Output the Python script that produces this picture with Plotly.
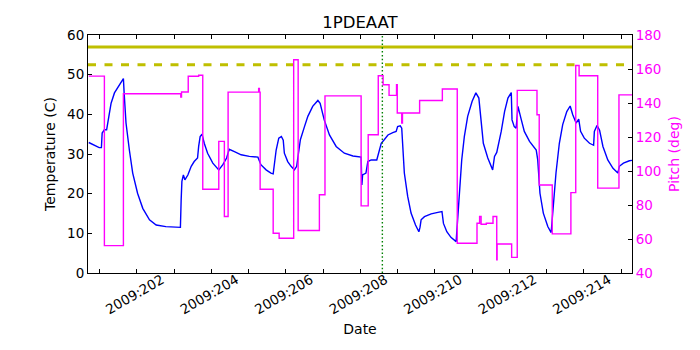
"""1PDEAAT temperature and pitch"""
import plotly.graph_objects as go

# temperature (C) vs day of year 2009
temp_day = [
    200.71, 200.99, 201.05, 201.07, 201.13, 201.19, 201.25, 201.31, 201.40, 201.53,
    201.64, 201.66, 201.71, 201.80, 201.89, 202.02, 202.16, 202.34, 202.52, 202.78,
    203.17, 203.19, 203.21, 203.25, 203.29, 203.37, 203.46, 203.54, 203.63, 203.66,
    203.70, 203.75, 203.81, 203.90, 204.04, 204.20, 204.31, 204.41, 204.48, 204.62,
    204.80, 205.02, 205.25, 205.33, 205.47, 205.60, 205.66, 205.74, 205.81, 205.88,
    205.93, 205.96, 206.05, 206.14, 206.23, 206.29, 206.33, 206.39, 206.50, 206.59,
    206.72, 206.86, 206.92, 207.03, 207.17, 207.35, 207.57, 207.80, 208.02, 208.04,
    208.06, 208.15, 208.20, 208.29, 208.44, 208.51, 208.56, 208.64, 208.74, 208.87,
    208.96, 209.00, 209.07, 209.11, 209.14, 209.18, 209.27, 209.36, 209.48, 209.57,
    209.60, 209.63, 209.72, 209.90, 210.08, 210.19, 210.23, 210.32, 210.43, 210.57,
    210.61, 210.66, 210.72, 210.79, 210.88, 211.00, 211.10, 211.18, 211.22, 211.24,
    211.30, 211.42, 211.55, 211.60, 211.66, 211.78, 211.87, 211.96, 212.05, 212.07,
    212.13, 212.18, 212.23, 212.31, 212.40, 212.54, 212.72, 212.76, 212.82, 212.91,
    213.03, 213.12, 213.18, 213.25, 213.34, 213.43, 213.54, 213.63, 213.70, 213.79,
    213.86, 213.91, 214.01, 214.15, 214.26, 214.28, 214.35, 214.42, 214.51, 214.64,
    214.78, 214.91, 214.95, 215.06, 215.22, 215.29,
]
temp_c = [
    32.9, 31.6, 31.6, 35.3, 36.1, 36.1, 39.5, 42.8, 45.4, 47.5,
    49.0, 45.4, 37.8, 31.0, 25.2, 20.1, 16.3, 13.4, 12.1, 11.7,
    11.5, 18.4, 23.1, 24.7, 23.5, 24.7, 26.9, 28.1, 29.0, 31.9,
    34.4, 35.0, 32.7, 30.2, 27.7, 26.0, 27.3, 29.0, 31.2, 30.6,
    29.8, 29.4, 29.2, 27.3, 26.0, 25.2, 25.0, 31.0, 34.0, 34.4,
    33.5, 30.2, 28.1, 26.9, 26.0, 26.9, 30.2, 33.6, 36.9, 39.5,
    42.0, 43.5, 42.8, 38.6, 34.8, 31.9, 30.2, 29.5, 29.2, 22.2,
    24.7, 25.2, 28.1, 28.5, 28.5, 30.6, 32.7, 33.6, 34.8, 35.4,
    35.7, 36.9, 37.1, 36.5, 31.9, 25.2, 19.3, 15.1, 12.1, 10.4,
    11.5, 13.4, 14.2, 14.9, 15.3, 15.5, 12.5, 10.4, 9.0, 7.9,
    13.4, 20.9, 28.5, 34.4, 39.5, 43.3, 45.4, 44.1, 40.3, 36.9,
    32.7, 29.0, 26.0, 29.4, 30.4, 35.7, 40.7, 44.1, 45.5, 38.6,
    36.9, 36.5, 42.0, 39.0, 35.7, 33.2, 31.0, 28.5, 20.1, 15.1,
    11.7, 10.2, 17.6, 25.2, 32.7, 37.4, 40.7, 42.1, 39.9, 37.8,
    38.8, 35.7, 34.0, 32.7, 32.2, 35.7, 37.2, 36.0, 31.9, 28.5,
    26.4, 25.2, 26.9, 27.7, 28.3, 28.4,
]

# pitch (deg): value holds from each day until the next one
pitch_day = [
    200.71, 201.13, 201.64, 203.18, 203.20, 203.38, 203.66, 203.77, 204.20, 204.35,
    204.45, 205.27, 205.29, 205.31, 205.66, 205.82, 206.21, 206.33, 206.90, 207.05,
    208.02, 208.21, 208.48, 208.61, 208.77, 208.97, 208.99, 209.11, 209.13, 209.59,
    210.20, 210.60, 211.13, 211.20, 211.24, 211.38, 211.56, 211.66, 211.67, 212.06,
    212.21, 212.74, 212.80, 213.15, 213.65, 213.78, 213.87, 214.37, 214.94, 215.29,
]
pitch_deg = [
    155.8, 56.1, 145.4, 143.5, 146.5, 155.7, 156.3, 89.3, 117.4, 73.2,
    146.4, 148.5, 146.4, 89.3, 63.4, 60.4, 165.4, 65.0, 86.0, 144.2,
    79.5, 121.3, 156.0, 150.7, 144.5, 150.7, 134.1, 128.2, 134.1, 141.5,
    148.2, 57.5, 69.3, 73.2, 68.7, 69.3, 73.2, 47.7, 57.1, 49.2,
    147.4, 133.1, 91.8, 63.0, 87.3, 162.1, 156.0, 89.9, 144.8, 144.8,
]

limit_planning = 57.0
limit_caution = 52.5
now_day = 208.59

x_range = [200.69, 215.29]
tick_days = list(range(201, 216))
tick_text = [f"2009:{d}" if d % 2 == 0 else "" for d in tick_days]

font = "DejaVu Sans, Liberation Sans, sans-serif"
olive = "#bfbf00"
magenta = "#ff00ff"

fig = go.Figure()
fig.add_trace(go.Scatter(
    x=x_range, y=[limit_planning] * 2, mode="lines",
    line=dict(color=olive, width=3), showlegend=False,
))
fig.add_trace(go.Scatter(
    x=x_range, y=[limit_caution] * 2, mode="lines",
    line=dict(color=olive, width=3, dash="8px,8.5px"), showlegend=False,
))
fig.add_trace(go.Scatter(
    x=temp_day, y=temp_c, mode="lines",
    line=dict(color="#0000ff", width=1.4), showlegend=False,
))
fig.add_trace(go.Scatter(
    x=[now_day, now_day], y=[0, 60], mode="lines",
    line=dict(color="#008000", width=1.4, dash="1.5px,2.3px"), showlegend=False,
))
fig.add_trace(go.Scatter(
    x=pitch_day, y=pitch_deg, mode="lines", line_shape="hv", yaxis="y2",
    line=dict(color=magenta, width=1.4), showlegend=False,
))

fig.update_layout(
    width=700, height=350,
    margin=dict(l=88, r=68, t=35, b=77),
    paper_bgcolor="white", plot_bgcolor="white",
    font=dict(family=font, size=14, color="black"),
    title=dict(text="1PDEAAT", x=0.5, xref="paper", y=1 - 22 / 350,
               yanchor="middle", font=dict(size=16.5)),
    xaxis=dict(
        range=x_range, tickvals=tick_days, ticktext=tick_text, tickangle=-30,
        ticklabelshift=25, ticklabelstandoff=-7, ticks="inside", ticklen=4,
        tickcolor="black", showgrid=False, zeroline=False, showline=True,
        linecolor="black", linewidth=1, mirror="ticks", automargin=False,
        tickfont=dict(size=13.5),
        title=dict(text="Date", standoff=7, font=dict(size=14)),
    ),
    yaxis=dict(
        range=[0, 60], dtick=10, ticks="inside", ticklen=4, tickcolor="black",
        showgrid=False, zeroline=False, showline=True, linecolor="black",
        linewidth=1, automargin=False, tickfont=dict(size=13.5),
        title=dict(text="Temperature (C)", standoff=8, font=dict(size=14)),
    ),
    yaxis2=dict(
        range=[40, 180], dtick=20, overlaying="y", side="right",
        ticks="inside", ticklen=4, tickcolor="black", showgrid=False,
        zeroline=False, showline=True, linecolor="black", linewidth=1,
        automargin=False, tickfont=dict(color=magenta, size=13.5),
        title=dict(text="Pitch (deg)", standoff=8,
                   font=dict(color=magenta, size=14)),
    ),
)

# drop the page's default body margin so the figure sits at the window corner
fig.write_html(
    "out.html",
    config={"displayModeBar": False},
    post_script="document.body.style.margin = '0';",
)
